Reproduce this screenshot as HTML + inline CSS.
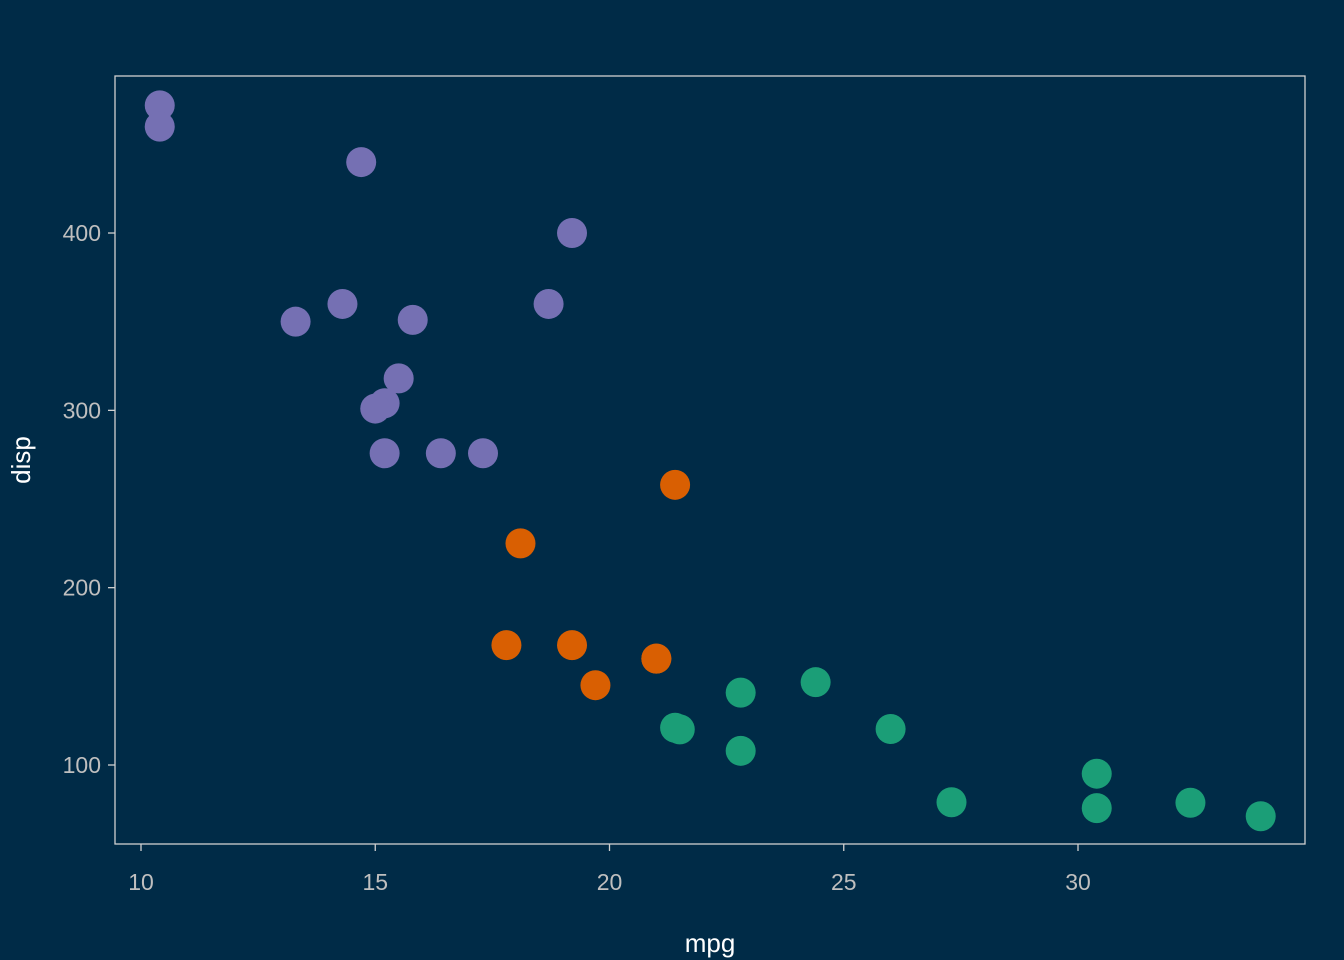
<!DOCTYPE html>
<html><head><meta charset="utf-8"><style>
body{margin:0;background:#002b47;}
svg{display:block;font-family:"Liberation Sans",sans-serif;}
</style></head><body>
<svg id="chart" width="1344" height="960">
<rect width="1344" height="960" fill="#002b47"/>
<rect x="115" y="76" width="1190" height="768" fill="none" stroke="#d0d0d0" stroke-width="1.3"/>
<g id="axes"></g>
<g id="points"></g>
<text x="710" y="952" fill="#ffffff" font-size="26" text-anchor="middle">mpg</text>
<text transform="translate(30,460) rotate(-90)" fill="#ffffff" font-size="26" text-anchor="middle">disp</text>
</svg>
<script>
const mpg=[21.0,21.0,22.8,21.4,18.7,18.1,14.3,24.4,22.8,19.2,17.8,16.4,17.3,15.2,10.4,10.4,14.7,32.4,30.4,33.9,21.5,15.5,15.2,13.3,19.2,27.3,26.0,30.4,15.8,19.7,15.0,21.4];
const disp=[160,160,108,258,360,225,360,146.7,140.8,167.6,167.6,275.8,275.8,275.8,472,460,440,78.7,75.7,71.1,120.1,318,304,350,400,79,120.3,95.1,351,145,301,121];
const cyl=[6,6,4,6,8,6,8,4,4,6,6,8,8,8,8,8,8,4,4,4,4,8,8,8,8,4,4,4,8,6,8,4];
const xTicks=[10,15,20,25,30];
const yTicks=[100,200,300,400];
const colors={4:"#1b9e77",6:"#d95f02",8:"#7570b3"};
const NS="http://www.w3.org/2000/svg";
function xs(v){return 141+(v-10)*46.85;}
function ys(v){return 765-(v-100)*1.7733;}
const axes=document.getElementById('axes');
xTicks.forEach(t=>{
  const l=document.createElementNS(NS,'line');
  l.setAttribute('x1',xs(t));l.setAttribute('x2',xs(t));l.setAttribute('y1',844);l.setAttribute('y2',851);
  l.setAttribute('stroke','#d0d0d0');l.setAttribute('stroke-width','1.3');
  
  
  axes.appendChild(l);
  const tx=document.createElementNS(NS,'text');
  tx.setAttribute('x',xs(t));tx.setAttribute('y',890);tx.setAttribute('fill','#bfbfbf');
  tx.setAttribute('font-size','23');tx.setAttribute('text-anchor','middle');tx.textContent=t;
  
  
  axes.appendChild(tx);
});
yTicks.forEach(t=>{
  const l=document.createElementNS(NS,'line');
  l.setAttribute('x1',108);l.setAttribute('x2',115);l.setAttribute('y1',ys(t));l.setAttribute('y2',ys(t));
  l.setAttribute('stroke','#d0d0d0');l.setAttribute('stroke-width','1.3');
  
  
  axes.appendChild(l);
  const tx=document.createElementNS(NS,'text');
  tx.setAttribute('x',101);tx.setAttribute('y',ys(t)+8);tx.setAttribute('fill','#bfbfbf');
  tx.setAttribute('font-size','23');tx.setAttribute('text-anchor','end');tx.textContent=t;
  
  
  axes.appendChild(tx);
});
const pts=document.getElementById('points');
mpg.forEach((m,i)=>{
  const c=document.createElementNS(NS,'circle');
  c.setAttribute('cx',xs(m));c.setAttribute('cy',ys(disp[i]));c.setAttribute('r',15);
  c.setAttribute('fill',colors[cyl[i]]);
  
  
  pts.appendChild(c);
});
</script>
</body></html>
